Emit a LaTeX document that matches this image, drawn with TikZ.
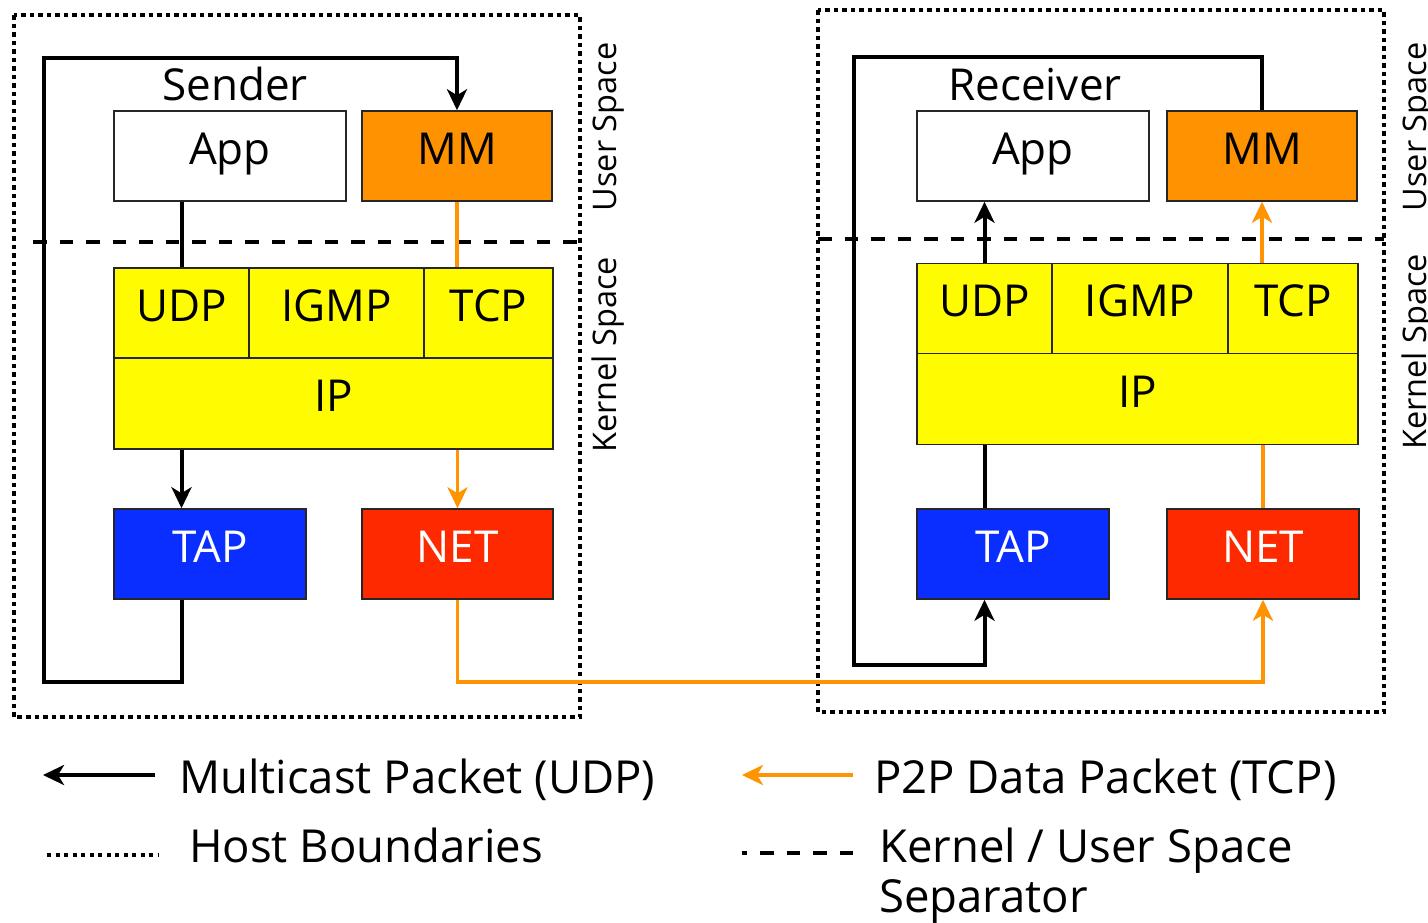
\documentclass[tikz,border=0pt]{standalone}
\usepackage{fontspec}
\setmainfont{Open Sans}
\usetikzlibrary{arrows.meta}
\definecolor{mmorange}{RGB}{255,146,0}
\definecolor{lnorange}{RGB}{255,148,0}
\definecolor{ipyellow}{RGB}{255,251,0}
\definecolor{tapblue}{RGB}{10,46,255}
\definecolor{netred}{RGB}{255,41,0}
\newcommand{\mybigfont}{\fontsize{44}{52}\selectfont}
\newcommand{\mylegfont}{\fontsize{45.5}{54}\selectfont}
\newcommand{\mysidefont}{\fontsize{32.5}{38}\selectfont}
\tikzset{
  layer/.style={draw=black!85, line width=1.5pt, inner sep=0pt, text height=32pt, text depth=16pt, font=\mybigfont},
  blkline/.style={draw=black, line width=4pt},
  orgline/.style={draw=lnorange, line width=3.5pt},
  tipb/.style={-{Stealth[length=21pt,width=20pt,inset=6pt]}},
  hostbound/.style={draw=black, line width=4.5pt, dash pattern=on 4.5pt off 4pt},
  kusep/.style={draw=black, line width=4pt, dash pattern=on 13.5pt off 13pt},
  sidelbl/.style={rotate=90, anchor=base, font=\mysidefont, inner sep=0pt},
  titlelbl/.style={anchor=base, font=\mybigfont, inner sep=0pt},
  legendlbl/.style={anchor=base west, font=\mylegfont, inner sep=0pt},
}
\begin{document}
\begin{tikzpicture}[x=1pt,y=-1pt]
\useasboundingbox[fill=white] (0,0) rectangle (1428,922);

% host boundaries
\draw[hostbound] (14,15) rectangle (580,717);
\draw[hostbound] (818,10) rectangle (1384,712);

% kernel / user separators
\draw[kusep] (33,242) -- (580,242);
\draw[kusep] (818,239) -- (1384,239);

% ---------- Sender ----------
\node[titlelbl] (sender) at (235,100) {Sender};
\node[layer, fill=white, minimum width=232pt, minimum height=90pt] (appL) at (230,156) {App};
\node[layer, fill=mmorange, minimum width=190pt, minimum height=90pt] (mmL) at (457,156) {MM};
\node[layer, fill=ipyellow, minimum width=135pt, minimum height=90pt] (udpL) at (181.5,313) {UDP};
\node[layer, fill=ipyellow, minimum width=175pt, minimum height=90pt] (igmpL) at (336.5,313) {IGMP};
\node[layer, fill=ipyellow, minimum width=129pt, minimum height=90pt] (tcpL) at (488.5,313) {TCP};
\node[layer, fill=ipyellow, minimum width=439pt, minimum height=91pt] (ipL) at (333.5,403.5) {IP};
\node[layer, fill=tapblue, text=white, minimum width=192pt, minimum height=90pt] (tapL) at (210,554) {TAP};
\node[layer, fill=netred, text=white, minimum width=191pt, minimum height=90pt] (netL) at (457.5,554) {NET};

\node[sidelbl] (usL) at (616,127) {User Space};
\node[sidelbl] (ksL) at (616,355) {Kernel Space};

% ---------- Receiver ----------
\node[titlelbl] (receiver) at (1035,100) {Receiver};
\node[layer, fill=white, minimum width=232pt, minimum height=90pt] (appR) at (1033,156) {App};
\node[layer, fill=mmorange, minimum width=190pt, minimum height=90pt] (mmR) at (1262,156) {MM};
\node[layer, fill=ipyellow, minimum width=135pt, minimum height=90pt] (udpR) at (984.5,308.5) {UDP};
\node[layer, fill=ipyellow, minimum width=176pt, minimum height=90pt] (igmpR) at (1140,308.5) {IGMP};
\node[layer, fill=ipyellow, minimum width=130pt, minimum height=90pt] (tcpR) at (1293,308.5) {TCP};
\node[layer, fill=ipyellow, minimum width=441pt, minimum height=91pt] (ipR) at (1137.5,399) {IP};
\node[layer, fill=tapblue, text=white, minimum width=192pt, minimum height=90pt] (tapR) at (1013,554) {TAP};
\node[layer, fill=netred, text=white, minimum width=192pt, minimum height=90pt] (netR) at (1263,554) {NET};

\node[sidelbl] (usR) at (1426,127) {User Space};
\node[sidelbl] (ksR) at (1426,352) {Kernel Space};

% ---------- connectors, sender ----------
\coordinate (loopLbot) at (44,682);
\coordinate (loopLtop) at (44,58);
\draw[blkline] (appL.south -| udpL.north) -- (udpL.north);
\draw[blkline, tipb] (ipL.south -| udpL.north) -- (tapL.north -| udpL.north);
\draw[blkline, tipb] (tapL.south -| udpL.north) |- (loopLbot) -- (loopLtop) -| (mmL.north);
\draw[orgline] (mmL.south) -- (mmL.south |- tcpL.north);
\draw[orgline, tipb] (ipL.south -| netL.north) -- (netL.north);

% ---------- link between hosts ----------
\coordinate (linkbot) at (700,682);
\draw[orgline, tipb] (netL.south) |- (linkbot) -| (netR.south);

% ---------- connectors, receiver ----------
\coordinate (loopRtop) at (854,57);
\coordinate (loopRbot) at (854,665);
\draw[blkline, tipb] (mmR.north) |- (loopRtop) -- (loopRbot) -| (tapR.south -| udpR.north);
\draw[blkline] (tapR.north -| udpR.north) -- (ipR.south -| udpR.north);
\draw[blkline, tipb] (udpR.north) -- (appR.south -| udpR.north);
\draw[orgline] (netR.north) -- (ipR.south -| netR.north);
\draw[orgline, tipb] (tcpR.north -| mmR.south) -- (mmR.south);

% ---------- legend ----------
\coordinate (lgAs) at (155,775);
\coordinate (lgAe) at (43,775);
\draw[blkline, line width=4.5pt, tipb] (lgAs) -- (lgAe);
\node[legendlbl] (lgAt) at (179,793) {Multicast Packet (UDP)};

\coordinate (lgBs) at (853,775);
\coordinate (lgBe) at (742,775);
\draw[orgline, line width=4pt, tipb] (lgBs) -- (lgBe);
\node[legendlbl] (lgBt) at (874,793) {P2P Data Packet (TCP)};

\coordinate (lgCs) at (47,855);
\coordinate (lgCe) at (158,855);
\draw[draw=black, line width=4pt, dash pattern=on 4pt off 4.5pt] (lgCs) -- (lgCe);
\node[legendlbl] (lgCt) at (189,862) {Host Boundaries};

\coordinate (lgDs) at (742,853);
\coordinate (lgDe) at (856,853);
\draw[draw=black, line width=4pt, dash pattern=on 13.5pt off 13pt, dash phase=8.5pt] (lgDs) -- (lgDe);
\node[legendlbl] (lgDt) at (879,862) {Kernel / User Space};
\node[legendlbl] (lgDt2) at (879,912) {Separator};
\end{tikzpicture}
\end{document}
